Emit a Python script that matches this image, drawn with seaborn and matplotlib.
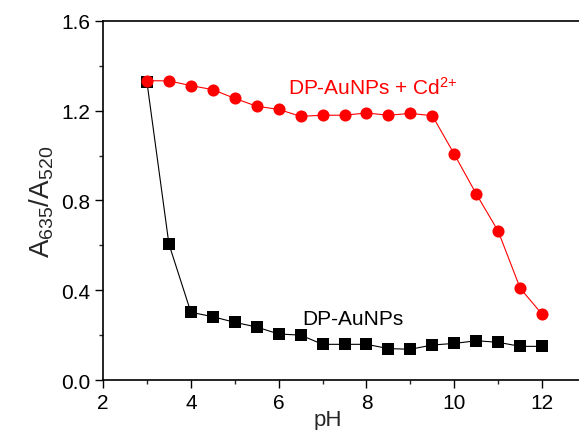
import pandas as pd
import seaborn as sns
import matplotlib.pyplot as plt
from matplotlib.ticker import MultipleLocator

ph = [3, 3.5, 4, 4.5, 5, 5.5, 6, 6.5, 7, 7.5, 8, 8.5, 9, 9.5, 10, 10.5, 11, 11.5, 12]
ratio_cd = [1.334, 1.333, 1.312, 1.294, 1.255, 1.220, 1.206, 1.175, 1.180, 1.180, 1.190,
            1.180, 1.188, 1.178, 1.006, 0.829, 0.663, 0.409, 0.293]
ratio_np = [1.327, 0.606, 0.302, 0.282, 0.257, 0.236, 0.205, 0.200, 0.159, 0.159, 0.159,
            0.140, 0.137, 0.156, 0.163, 0.175, 0.168, 0.150, 0.150]

df = pd.DataFrame({'pH': ph, 'cd': ratio_cd, 'np': ratio_np})

sns.set_style('ticks')
plt.rcParams['font.family'] = ['Liberation Sans', 'DejaVu Sans']
plt.rcParams['mathtext.fontset'] = 'custom'
plt.rcParams['mathtext.rm'] = 'Liberation Sans'
plt.rcParams['mathtext.it'] = 'Liberation Sans'

fig = plt.figure(figsize=(5.79, 4.31), dpi=100)
ax = fig.add_axes([0.178, 0.116, 0.822, 0.833])

sns.lineplot(data=df, x='pH', y='np', ax=ax, color='black', lw=0.8,
             marker='s', markersize=8, markeredgewidth=0)
sns.lineplot(data=df, x='pH', y='cd', ax=ax, color='#ff0000', lw=0.8,
             marker='o', markersize=8.7, markeredgewidth=0)

ax.set_xlim(2, 12.84)
ax.set_ylim(0, 1.6)
ax.xaxis.set_major_locator(MultipleLocator(2))
ax.xaxis.set_minor_locator(MultipleLocator(1))
ax.yaxis.set_major_locator(MultipleLocator(0.4))
ax.yaxis.set_minor_locator(MultipleLocator(0.2))
ax.tick_params(which='major', direction='out', length=5.5, width=1, labelsize=15, colors='black')
ax.tick_params(which='minor', direction='out', length=3, width=1)
ax.spines['right'].set_visible(False)
for s in ['left', 'bottom', 'top']:
    ax.spines[s].set_linewidth(1.2)
    ax.spines[s].set_color('black')

ax.set_xlabel('pH', fontsize=16)
ax.xaxis.set_label_coords(0.473, -0.082)
ax.set_ylabel('A$_{635}$/A$_{520}$', fontsize=20, labelpad=4)

ax.text(6.21, 1.306, 'DP-AuNPs + Cd$^{2{+}}$', color='#ff0000', fontsize=15, va='center')
ax.text(6.53, 0.276, 'DP-AuNPs', color='black', fontsize=15, va='center')

fig.savefig('out.png', dpi=100)
